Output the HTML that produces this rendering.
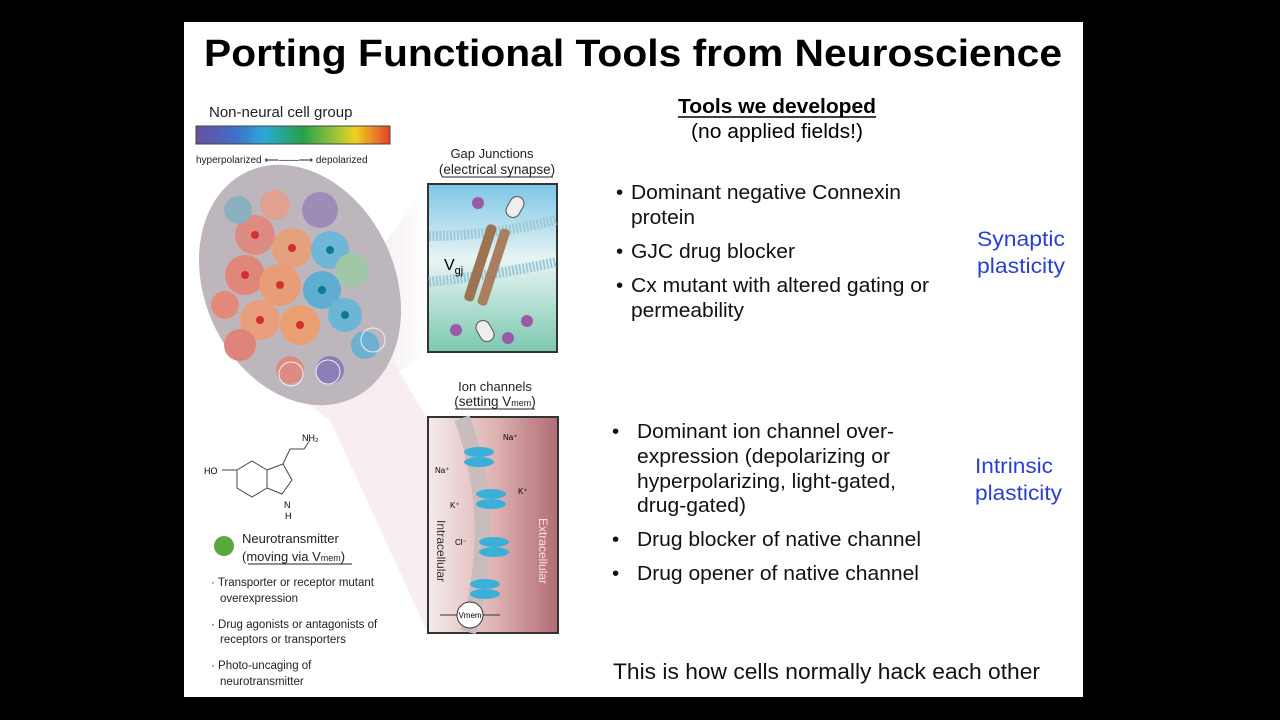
<!DOCTYPE html>
<html><head><meta charset="utf-8"><style>
html,body{margin:0;padding:0;background:#000;width:1280px;height:720px;overflow:hidden}
svg{display:block}
text{font-family:"Liberation Sans",Arial,sans-serif}
</style></head><body>
<svg width="1280" height="720" viewBox="0 0 1280 720">
<defs>
<linearGradient id="spec" x1="0" x2="1">
<stop offset="0" stop-color="#6a4fa0"/><stop offset="0.2" stop-color="#3f6fc8"/><stop offset="0.35" stop-color="#2aa8d8"/><stop offset="0.55" stop-color="#27a04a"/><stop offset="0.72" stop-color="#9cc43a"/><stop offset="0.82" stop-color="#f0d020"/><stop offset="1" stop-color="#e8402a"/>
</linearGradient>
<linearGradient id="gj" x1="0" y1="0" x2="0" y2="1">
<stop offset="0" stop-color="#7cc6e6"/><stop offset="0.45" stop-color="#e8f4f4"/><stop offset="1" stop-color="#7cc8b0"/>
</linearGradient>
<linearGradient id="ic" x1="0" x2="1">
<stop offset="0" stop-color="#f4ecec"/><stop offset="0.5" stop-color="#e0b4b4"/><stop offset="1" stop-color="#b06c74"/>
</linearGradient>
<linearGradient id="cone" x1="0" x2="1"><stop offset="0" stop-color="#efe2e6"/><stop offset="1" stop-color="#fff"/></linearGradient>
</defs>
<rect x="184" y="22" width="899" height="675" fill="#fff"/>
<text x="204" y="66" font-size="38" font-weight="bold" textLength="858" lengthAdjust="spacingAndGlyphs">Porting Functional Tools from Neuroscience</text>

<polygon points="380,250 428,185 428,352 360,400" fill="url(#cone)" opacity="0.8"/>
<polygon points="290,390 380,340 428,420 428,633 330,420" fill="#f6eaee" opacity="0.8"/>

<text x="209" y="117" font-size="15" fill="#222">Non-neural cell group</text>
<rect x="196" y="126" width="194" height="18" fill="url(#spec)" stroke="#444" stroke-width="1"/>
<text x="196" y="163" font-size="10" fill="#222">hyperpolarized ⟵——⟶ depolarized</text>

<ellipse cx="300" cy="285" rx="95" ry="125" transform="rotate(-25 300 285)" fill="#bdb7bd"/>
<g opacity="0.95">
<circle cx="255" cy="235" r="20" fill="#e08a80"/><circle cx="292" cy="248" r="20" fill="#e8a07a"/>
<circle cx="245" cy="275" r="20" fill="#e38577"/><circle cx="280" cy="285" r="21" fill="#eb9c74"/>
<circle cx="260" cy="320" r="20" fill="#ec9e78"/><circle cx="300" cy="325" r="20" fill="#ee9f70"/>
<circle cx="240" cy="345" r="16" fill="#e08278"/><circle cx="320" cy="210" r="18" fill="#9c8ab8"/>
<circle cx="330" cy="250" r="19" fill="#6ab8d8"/><circle cx="322" cy="290" r="19" fill="#5aaed4"/>
<circle cx="352" cy="270" r="17" fill="#a0c8a8"/><circle cx="345" cy="315" r="17" fill="#66b6d6"/>
<circle cx="275" cy="205" r="15" fill="#e0a090"/><circle cx="238" cy="210" r="14" fill="#8ab0c0"/>
<circle cx="330" cy="370" r="14" fill="#8c7cb8"/><circle cx="290" cy="370" r="14" fill="#e08a80"/>
<circle cx="365" cy="345" r="14" fill="#6ab0d0"/><circle cx="225" cy="305" r="14" fill="#e88878"/>
</g>
<g fill="#d03030"><circle cx="255" cy="235" r="4"/><circle cx="292" cy="248" r="4"/><circle cx="245" cy="275" r="4"/><circle cx="280" cy="285" r="4"/><circle cx="260" cy="320" r="4"/><circle cx="300" cy="325" r="4"/></g>
<g fill="#107890"><circle cx="330" cy="250" r="4"/><circle cx="322" cy="290" r="4"/><circle cx="345" cy="315" r="4"/></g>
<circle cx="291" cy="374" r="12" fill="none" stroke="#eee"/><circle cx="328" cy="372" r="12" fill="none" stroke="#eee"/><circle cx="373" cy="340" r="12" fill="none" stroke="#eee"/>

<text x="492" y="158" font-size="13" text-anchor="middle" fill="#222">Gap Junctions</text>
<text x="497" y="174" font-size="13.5" text-anchor="middle" fill="#222">(electrical synapse)</text>
<line x1="442" y1="177" x2="553" y2="177" stroke="#222"/>
<rect x="428" y="184" width="129" height="168" fill="url(#gj)" stroke="#333" stroke-width="2"/>
<path d="M429,236 Q490,236 556,220" stroke="#9ccad8" stroke-width="10" fill="none" stroke-dasharray="2 1.5"/>
<path d="M429,282 Q490,276 556,262" stroke="#9ccad8" stroke-width="10" fill="none" stroke-dasharray="2 1.5"/>
<g transform="rotate(18 487 265)"><rect x="475" y="225" width="10" height="80" rx="4" fill="#9c7452"/><rect x="489" y="225" width="10" height="80" rx="4" fill="#a88060"/></g>
<text x="444" y="270" font-size="16">V<tspan font-size="11" dy="4">gj</tspan></text>
<circle cx="478" cy="203" r="6" fill="#9a5aa6"/><circle cx="456" cy="330" r="6" fill="#9a5aa6"/><circle cx="527" cy="321" r="6" fill="#9a5aa6"/><circle cx="508" cy="338" r="6" fill="#9a5aa6"/>
<rect x="508" y="196" width="14" height="22" rx="7" fill="#eee" stroke="#555" transform="rotate(30 515 207)"/>
<rect x="478" y="320" width="14" height="22" rx="7" fill="#eee" stroke="#555" transform="rotate(-30 485 331)"/>

<text x="495" y="391" font-size="13" text-anchor="middle" fill="#222">Ion channels</text>
<text x="495" y="406" font-size="13.5" text-anchor="middle" fill="#222">(setting V<tspan font-size="9">mem</tspan>)</text>
<line x1="455" y1="409" x2="535" y2="409" stroke="#222"/>
<rect x="428" y="417" width="130" height="216" fill="url(#ic)" stroke="#333" stroke-width="2"/>
<path d="M462,418 Q500,520 468,632" stroke="#c8bcbc" stroke-width="16" fill="none"/>
<g fill="#3ab0d8"><ellipse cx="479" cy="452" rx="15" ry="5"/><ellipse cx="479" cy="462" rx="15" ry="5"/><ellipse cx="491" cy="494" rx="15" ry="5"/><ellipse cx="491" cy="504" rx="15" ry="5"/><ellipse cx="494" cy="542" rx="15" ry="5"/><ellipse cx="494" cy="552" rx="15" ry="5"/><ellipse cx="485" cy="584" rx="15" ry="5"/><ellipse cx="485" cy="594" rx="15" ry="5"/></g>
<text x="503" y="440" font-size="8">Na⁺</text><text x="435" y="473" font-size="8">Na⁺</text><text x="518" y="494" font-size="8">K⁺</text><text x="450" y="508" font-size="8">K⁺</text><text x="455" y="545" font-size="8">Cl⁻</text>
<text font-size="12" fill="#333" transform="translate(437 520) rotate(90)">Intracellular</text>
<text font-size="12" fill="#f5e0e0" transform="translate(539 518) rotate(90)">Extracellular</text>
<line x1="440" y1="615" x2="500" y2="615" stroke="#333"/>
<circle cx="470" cy="615" r="13" fill="#fff" stroke="#333"/><text x="470" y="618" font-size="8" text-anchor="middle">Vmem</text>

<g stroke="#444" fill="none" stroke-width="1"><polygon points="237,470 252,461 267,470 267,488 252,497 237,488"/><polyline points="267,470 283,464 292,480 282,494 267,488"/><polyline points="283,464 290,449 304,449 310,440"/><line x1="237" y1="470" x2="222" y2="470"/></g>
<text x="302" y="441" font-size="9">NH₂</text><text x="204" y="474" font-size="9">HO</text><text x="284" y="508" font-size="9">N</text><text x="285" y="519" font-size="9">H</text>

<circle cx="224" cy="546" r="10" fill="#5aa840"/>
<text x="242" y="543" font-size="13" fill="#222">Neurotransmitter</text>
<text x="242" y="561" font-size="13" fill="#222">(moving via V<tspan font-size="9">mem</tspan>)</text>
<line x1="248" y1="564" x2="352" y2="564" stroke="#222"/>
<g font-size="11.5" fill="#222">
<text x="211" y="586">· Transporter or receptor mutant</text><text x="220" y="602">overexpression</text>
<text x="211" y="628">· Drug agonists or antagonists of</text><text x="220" y="643">receptors or transporters</text>
<text x="211" y="669">· Photo-uncaging of</text><text x="220" y="685">neurotransmitter</text>
</g>

<text x="678" y="113" font-size="20" font-weight="bold" textLength="198" lengthAdjust="spacingAndGlyphs">Tools we developed</text>
<line x1="678" y1="117" x2="876" y2="117" stroke="#000" stroke-width="1.5"/>
<text x="691" y="138" font-size="20" textLength="172" lengthAdjust="spacingAndGlyphs">(no applied fields!)</text>
<g font-size="20.5" fill="#111">
<text x="616" y="199">•</text><text x="631" y="199" textLength="270" lengthAdjust="spacingAndGlyphs">Dominant negative Connexin</text><text x="631" y="224" textLength="64" lengthAdjust="spacingAndGlyphs">protein</text>
<text x="616" y="258">•</text><text x="631" y="258" textLength="164" lengthAdjust="spacingAndGlyphs">GJC drug blocker</text>
<text x="616" y="292">•</text><text x="631" y="292" textLength="298" lengthAdjust="spacingAndGlyphs">Cx mutant with altered gating or</text><text x="631" y="317" textLength="113" lengthAdjust="spacingAndGlyphs">permeability</text>
<text x="612" y="438">•</text><text x="637" y="438" textLength="257" lengthAdjust="spacingAndGlyphs">Dominant ion channel over-</text><text x="637" y="463" textLength="253" lengthAdjust="spacingAndGlyphs">expression (depolarizing or</text><text x="637" y="488" textLength="259" lengthAdjust="spacingAndGlyphs">hyperpolarizing, light-gated,</text><text x="637" y="512" textLength="109" lengthAdjust="spacingAndGlyphs">drug-gated)</text>
<text x="612" y="546">•</text><text x="637" y="546" textLength="284" lengthAdjust="spacingAndGlyphs">Drug blocker of native channel</text>
<text x="612" y="580">•</text><text x="637" y="580" textLength="282" lengthAdjust="spacingAndGlyphs">Drug opener of native channel</text>
<text x="613" y="679" font-size="22" textLength="427" lengthAdjust="spacingAndGlyphs">This is how cells normally hack each other</text>
</g>
<g font-size="21.5" fill="#2a3fd0">
<text x="977" y="246" textLength="88" lengthAdjust="spacingAndGlyphs">Synaptic</text><text x="977" y="273" textLength="88" lengthAdjust="spacingAndGlyphs">plasticity</text>
<text x="975" y="473" textLength="78" lengthAdjust="spacingAndGlyphs">Intrinsic</text><text x="975" y="500" textLength="87" lengthAdjust="spacingAndGlyphs">plasticity</text>
</g>
</svg>
</body></html>
